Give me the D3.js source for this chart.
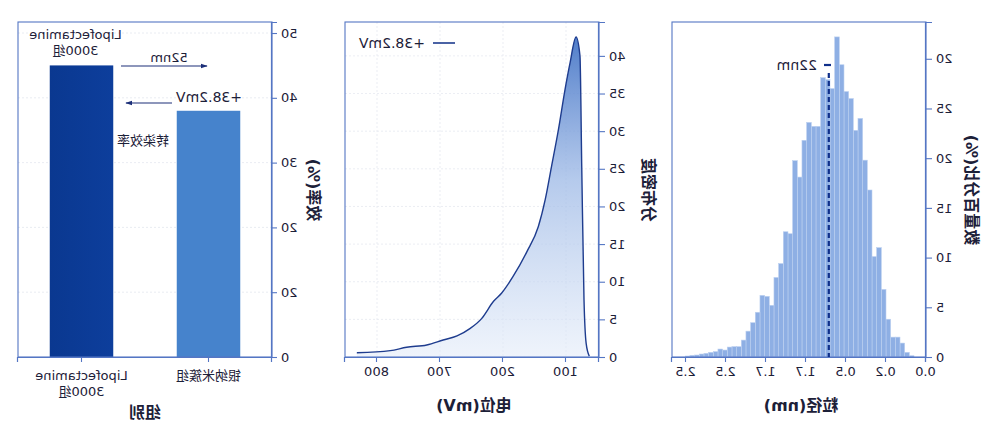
<!DOCTYPE html>
<html><head><meta charset="utf-8">
<script src="https://cdn.jsdelivr.net/npm/d3@7"></script>
<style>
html,body{margin:0;padding:0;background:#fff;}
text{font-family:"DejaVu Sans","Noto Sans CJK SC",sans-serif;fill:#1c2038;}
</style></head>
<body>
<svg id="c" width="1001" height="430"></svg>
<script>
// ---------- DATA ----------
// Panel A: transfection efficiency
const groupNames = ["银纳米簇组", "Lipofectamine 3000组"];
const efficiency = [38, 45];
const effTicks = [0, 10, 20, 30, 40, 50];
const effTickLabels = ["0", "20", "20", "30", "40", "50"];

// Panel B: zeta potential distribution
const potentialMV = [63, 68, 71.4, 75, 77.8, 84, 93.7, 101.6, 112, 123, 133, 144, 162, 184, 202, 215, 234, 252, 273, 295, 321, 353, 379, 432];
const densityVals = [0.1, 1.8, 7.6, 25.3, 40, 42.5, 39, 35.5, 30.2, 25.3, 20.9, 17.3, 14, 10.7, 8.5, 7.4, 5.1, 3.8, 2.8, 2.26, 1.6, 1.3, 0.84, 0.57];
const potTicks = [100, 200, 300, 400];
const potTickLabels = ["100", "200", "700", "800"];
const densTicks = [0, 5, 10, 15, 20, 25, 30, 35, 40];

// Panel C: particle size histogram
const histStart = 0.3;
const histBinWidth = 0.1167;
const histPercent = [0.13, 0.47, 1.4, 2.0, 2.0, 3.8, 6.8, 11.0, 10.1, 16.8, 19.8, 24.0, 22.8, 26.0, 26.7, 29.4, 32.2, 27.0, 27.9, 28.1, 23.2, 23.2, 23.6, 21.8, 18.1, 19.75, 12.4, 12.6, 9.4, 8.0, 5.2, 6.1, 6.2, 4.5, 3.45, 2.6, 1.7, 1.04, 1.04, 1.0, 0.7, 0.8, 0.54, 0.47, 0.37, 0.3, 0.2, 0.17, 0.1];
const sizeTicks = [0, 1, 2, 3, 4, 5, 6];
const sizeTickLabels = ["0.0", "0.2", "0.5", "1.7", "1.7", "2.5", "2.5"];
const pctTicks = [0, 5, 10, 15, 20, 25, 30];
const pctTickLabels = ["0", "5", "10", "15", "20", "25", "20"];
const meanSize = 2.43;

// ---------- DRAW ----------
const svg = d3.select("#c");
const defs = svg.append("defs");
// whole figure is horizontally mirrored as in the reference
const root = svg.append("g").attr("transform", "translate(1001,0) scale(-1,1)");

const frameCol = "#5476c4";
const yTop = 22, yBot = 357;

defs.append("marker").attr("id", "arr").attr("viewBox", "0 0 10 10")
  .attr("refX", 9).attr("refY", 5).attr("markerWidth", 6).attr("markerHeight", 6)
  .attr("orient", "auto").append("path").attr("d", "M0,1.5L10,5L0,8.5Z").attr("fill", "#1c2f78");

function frame(g, x0, x1) {
  g.append("rect").attr("x", x0).attr("y", yTop).attr("width", x1 - x0).attr("height", yBot - yTop)
    .attr("fill", "none").attr("stroke", frameCol).attr("stroke-width", 1.1);
}
function styleAxis(ax) {
  ax.selectAll(".domain").attr("stroke", frameCol).attr("stroke-width", 1.2);
  ax.selectAll(".tick line").attr("stroke", frameCol).attr("stroke-width", 1.1);
  ax.selectAll(".tick text").style("font-size", "13px").attr("fill", "#1c2038")
    .style("font-family", "DejaVu Sans, sans-serif");
}

// ===== Panel A =====
{
  const g = root.append("g");
  const x0 = 729, x1 = 983;
  const x = d3.scaleBand().domain(groupNames).range([x0, x1]).paddingInner(0.5).paddingOuter(0.25);
  const y = d3.scaleLinear().domain([0, 51.7]).range([yBot, yTop]);
  g.selectAll(".gl").data(effTicks.slice(1)).join("line")
    .attr("x1", x0).attr("x2", x1).attr("y1", d => y(d)).attr("y2", d => y(d))
    .attr("stroke", "#e3e7ef").attr("stroke-dasharray", "2,2").attr("stroke-width", 0.8);
  const grad = defs.append("linearGradient").attr("id", "gDark").attr("x1", 0).attr("x2", 1).attr("y1", 0).attr("y2", 0);
  grad.append("stop").attr("offset", 0).attr("stop-color", "#0d3e9c");
  grad.append("stop").attr("offset", 1).attr("stop-color", "#0a3890");
  const colors = ["#4683cc", "url(#gDark)"];
  g.selectAll(".bar").data(groupNames).join("rect")
    .attr("x", d => x(d)).attr("width", x.bandwidth())
    .attr("y", (d, i) => y(efficiency[i])).attr("height", (d, i) => yBot - y(efficiency[i]))
    .attr("fill", (d, i) => colors[i]);
  frame(g, x0, x1);
  const ya = g.append("g").attr("transform", `translate(${x0},0)`)
    .call(d3.axisLeft(y).tickValues(effTicks).tickFormat((d, i) => effTickLabels[i]).tickSize(5).tickPadding(4));
  styleAxis(ya);
  const xa = g.append("g").attr("transform", `translate(0,${yBot})`)
    .call(d3.axisBottom(x).tickSize(5).tickFormat(""));
  styleAxis(xa);
  const cl = g.append("g").style("font-size", "13px");
  cl.append("text").attr("x", x(groupNames[0]) + x.bandwidth() / 2).attr("y", 380).attr("text-anchor", "middle").text(groupNames[0]);
  const lc = x(groupNames[1]) + x.bandwidth() / 2;
  cl.append("text").attr("x", lc).attr("y", 380).attr("text-anchor", "middle").text("Lipofectamine");
  cl.append("text").attr("x", lc).attr("y", 396).attr("text-anchor", "middle").text("3000组");
  g.append("text").attr("x", (x0 + x1) / 2).attr("y", 418).attr("text-anchor", "middle")
    .style("font-size", "16px").style("font-weight", "bold").text("组别");
  g.append("text").attr("transform", `translate(${x0 - 36},190) rotate(-90)`).attr("text-anchor", "middle")
    .style("font-size", "16px").style("font-weight", "bold").text("效率(%)");
  const topL = y(efficiency[1]);
  g.append("text").attr("x", lc + 6).attr("y", topL - 26).attr("text-anchor", "middle").style("font-size", "13px").text("Lipofectamine");
  g.append("text").attr("x", lc + 6).attr("y", topL - 10).attr("text-anchor", "middle").style("font-size", "13px").text("3000组");
  g.append("text").attr("x", 832).attr("y", 62).attr("text-anchor", "middle").style("font-size", "13px").text("52nm");
  g.append("line").attr("x1", 880).attr("x2", 794).attr("y1", 66).attr("y2", 66)
    .attr("stroke", "#1c2f78").attr("stroke-width", 1.2).attr("marker-end", "url(#arr)");
  g.append("text").attr("x", 792).attr("y", 102).attr("text-anchor", "middle").style("font-size", "14px").text("+38.2mV");
  g.append("line").attr("x1", 829).attr("x2", 875).attr("y1", 103).attr("y2", 103)
    .attr("stroke", "#1c2f78").attr("stroke-width", 1.2).attr("marker-end", "url(#arr)");
  g.append("text").attr("x", 858).attr("y", 145).attr("text-anchor", "middle").style("font-size", "13px").text("转染效率");
}

// ===== Panel B =====
{
  const g = root.append("g");
  const x0 = 402, x1 = 656;
  const x = d3.scaleLinear().domain([47.6, 450.8]).range([x0, x1]);
  const y = d3.scaleLinear().domain([0, 44.5]).range([yBot, yTop]);
  g.selectAll(".gh").data(densTicks.slice(1)).join("line")
    .attr("x1", x0).attr("x2", x1).attr("y1", d => y(d)).attr("y2", d => y(d))
    .attr("stroke", "#e6e9f0").attr("stroke-dasharray", "2,2").attr("stroke-width", 0.8);
  g.selectAll(".gv").data(potTicks).join("line")
    .attr("x1", d => x(d)).attr("x2", d => x(d)).attr("y1", yTop).attr("y2", yBot)
    .attr("stroke", "#e6e9f0").attr("stroke-dasharray", "2,2").attr("stroke-width", 0.8);
  const grad = defs.append("linearGradient").attr("id", "gArea").attr("gradientUnits", "userSpaceOnUse")
    .attr("x1", 0).attr("x2", 0).attr("y1", y(42.5)).attr("y2", yBot);
  grad.append("stop").attr("offset", 0).attr("stop-color", "#3d6fc4").attr("stop-opacity", 0.9);
  grad.append("stop").attr("offset", 0.45).attr("stop-color", "#9db9e6").attr("stop-opacity", 0.75);
  grad.append("stop").attr("offset", 1).attr("stop-color", "#e4ecf9").attr("stop-opacity", 0.6);
  const pts = potentialMV.map((v, i) => [v, densityVals[i]]);
  g.append("path").datum(pts).attr("fill", "url(#gArea)")
    .attr("d", d3.area().x(d => x(d[0])).y0(y(0)).y1(d => y(d[1])).curve(d3.curveMonotoneX));
  g.append("path").datum(pts).attr("fill", "none").attr("stroke", "#1e3c8e").attr("stroke-width", 1.4)
    .attr("d", d3.line().x(d => x(d[0])).y(d => y(d[1])).curve(d3.curveMonotoneX));
  frame(g, x0, x1);
  const ya = g.append("g").attr("transform", `translate(${x0},0)`)
    .call(d3.axisLeft(y).tickValues(densTicks).tickSize(6).tickPadding(4));
  styleAxis(ya);
  const xa = g.append("g").attr("transform", `translate(0,${yBot})`)
    .call(d3.axisBottom(x).tickValues(potTicks).tickFormat((d, i) => potTickLabels[i]).tickSize(5).tickPadding(5));
  styleAxis(xa);
  g.append("line").attr("x1", 546).attr("x2", 568).attr("y1", 43).attr("y2", 43).attr("stroke", "#1e3c8e").attr("stroke-width", 1.6);
  g.append("text").attr("x", 576).attr("y", 48).style("font-size", "14px").text("+38.2mV");
  g.append("text").attr("x", (x0 + x1) / 2 - 2).attr("y", 411).attr("text-anchor", "middle")
    .style("font-size", "16px").style("font-weight", "bold").text("电位(mV)");
  g.append("text").attr("transform", `translate(${x0 - 44},190) rotate(-90)`).attr("text-anchor", "middle")
    .style("font-size", "16px").style("font-weight", "bold").text("分布密度");
}

// ===== Panel C =====
{
  const g = root.append("g");
  const x0 = 75, x1 = 329;
  const x = d3.scaleLinear().domain([0, 6.35]).range([x0, x1]);
  const y = d3.scaleLinear().domain([0, 33.7]).range([yBot, yTop]);
  g.selectAll(".hb").data(histPercent).join("rect")
    .attr("x", (d, i) => x(histStart + i * histBinWidth))
    .attr("width", x(histBinWidth) - x(0))
    .attr("y", d => y(d)).attr("height", d => yBot - y(d))
    .attr("fill", "#8eafe4").attr("stroke", "#bcd0f0").attr("stroke-width", 0.6);
  frame(g, x0, x1);
  const ya = g.append("g").attr("transform", `translate(${x0},0)`)
    .call(d3.axisLeft(y).tickValues(pctTicks).tickFormat((d, i) => pctTickLabels[i]).tickSize(6).tickPadding(4));
  styleAxis(ya);
  const xa = g.append("g").attr("transform", `translate(0,${yBot})`)
    .call(d3.axisBottom(x).tickValues(sizeTicks).tickFormat((d, i) => sizeTickLabels[i]).tickSize(5).tickPadding(5));
  styleAxis(xa);
  g.append("line").attr("x1", x(meanSize)).attr("x2", x(meanSize)).attr("y1", 73).attr("y2", yBot)
    .attr("stroke", "#0f2f8a").attr("stroke-width", 2.2).attr("stroke-dasharray", "5,3");
  g.append("line").attr("x1", 170).attr("x2", 177).attr("y1", 65).attr("y2", 65).attr("stroke", "#0f2f8a").attr("stroke-width", 2.2);
  g.append("text").attr("x", 184).attr("y", 70).style("font-size", "14px").text("22nm");
  g.append("text").attr("x", (x0 + x1) / 2 - 2).attr("y", 411).attr("text-anchor", "middle")
    .style("font-size", "16px").style("font-weight", "bold").text("粒径(nm)");
  g.append("text").attr("transform", `translate(${x0 - 40},190) rotate(-90)`).attr("text-anchor", "middle")
    .style("font-size", "16px").style("font-weight", "bold").text("数量百分比(%)");
}
</script>
</body></html>
